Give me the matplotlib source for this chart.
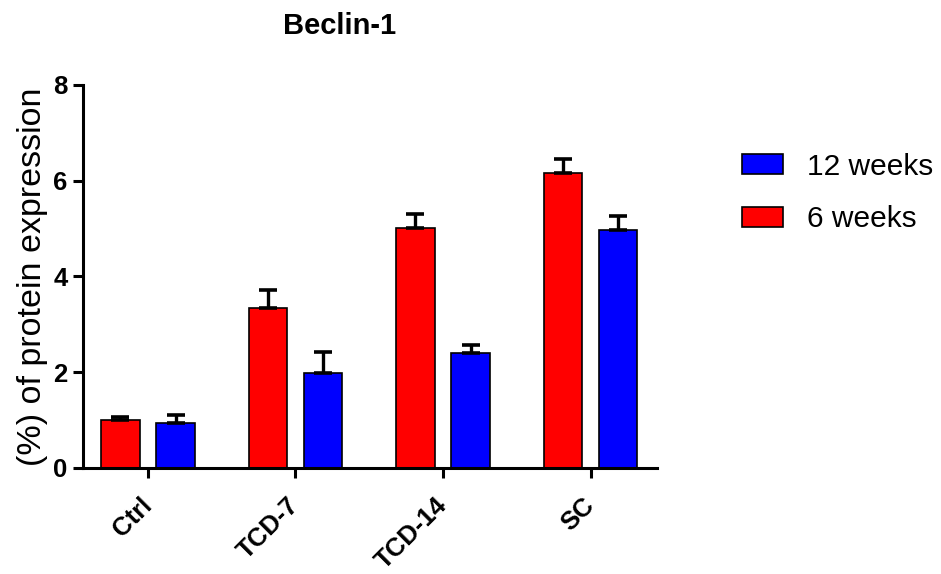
import matplotlib
matplotlib.use("Agg")
import matplotlib.pyplot as plt
from matplotlib.patches import Patch
import numpy as np

plt.rcParams['font.family'] = ['Liberation Sans', 'DejaVu Sans']

categories = ["Ctrl", "TCD-7", "TCD-14", "SC"]
weeks6 = [1.00, 3.34, 5.01, 6.17]
weeks6_err = [0.07, 0.37, 0.30, 0.28]
weeks12 = [0.94, 1.98, 2.41, 4.97]
weeks12_err = [0.16, 0.44, 0.15, 0.29]
yticks = [0, 2, 4, 6, 8]

fig = plt.figure(figsize=(9.41, 5.74), dpi=100)
ax = fig.add_axes([0.0882, 0.1847, 0.6100, 0.6673])

x = np.arange(len(categories))
width = 0.26
offset = 0.187

err_kw = dict(ecolor="black", elinewidth=2.4, capsize=6.5, capthick=2.6)
ax.bar(x - offset, weeks6, width, color="#ff0000", edgecolor="black",
       linewidth=1.2, yerr=[np.zeros(4), weeks6_err], error_kw=err_kw, zorder=2)
ax.bar(x + offset, weeks12, width, color="#0000ff", edgecolor="black",
       linewidth=1.2, yerr=[np.zeros(4), weeks12_err], error_kw=err_kw, zorder=2)

ax.set_xlim(-0.44, 3.45)
ax.set_ylim(0, 8)
ax.set_yticks(yticks)
ax.set_yticklabels([str(t) for t in yticks], fontsize=18.5, fontweight="bold")
ax.set_xticks(x)
ax.set_xticklabels(categories, rotation=45, ha="right", va="center",
                   rotation_mode="anchor", fontsize=18.5, fontweight="bold")

for side in ("top", "right"):
    ax.spines[side].set_visible(False)
for side in ("left", "bottom"):
    ax.spines[side].set_linewidth(2.2)
ax.tick_params(axis="both", direction="out", length=7, width=2.2, pad=4)
ax.tick_params(axis="x", pad=17)

ax.set_ylabel("(%) of protein expression", fontsize=24.5, labelpad=4)
fig.text(0.361, 0.955, "Beclin-1", fontsize=21, fontweight="bold",
         ha="center", va="center")

handles = [Patch(facecolor="#0000ff", edgecolor="black", linewidth=1.2),
           Patch(facecolor="#ff0000", edgecolor="black", linewidth=1.2)]
fig.legend(handles, ["12 weeks", "6 weeks"], loc="upper left",
           bbox_to_anchor=(0.7885, 0.734), frameon=False, fontsize=21.5,
           borderpad=0, borderaxespad=0,
           handlelength=1.37, handleheight=0.67, handletextpad=0.8,
           labelspacing=0.82)

fig.savefig("out.png", dpi=100)
